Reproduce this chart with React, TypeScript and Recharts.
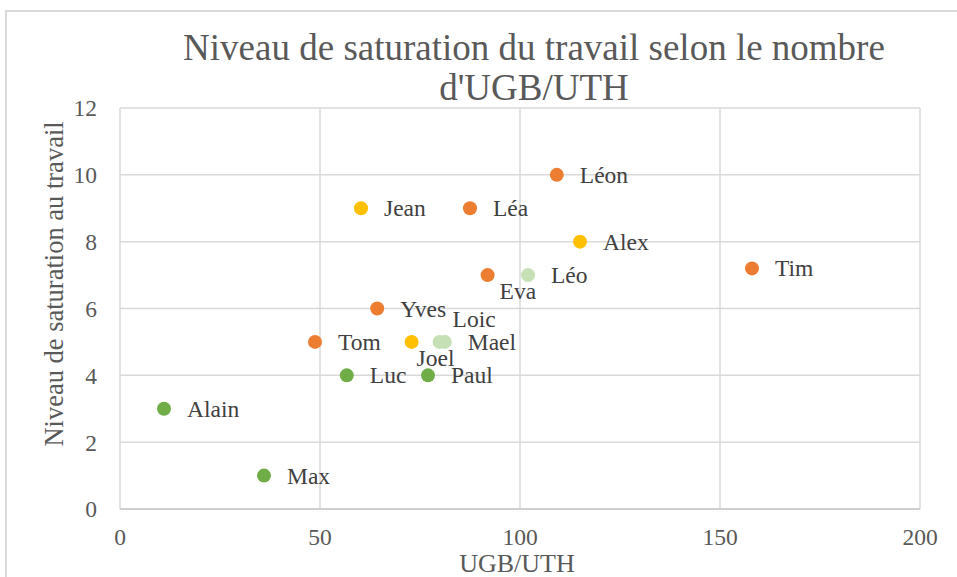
import React from 'react';
import { ScatterChart, Scatter, XAxis, YAxis, CartesianGrid } from 'recharts';

// données
const noms = ['Alain', 'Max', 'Luc', 'Paul', 'Tom', 'Yves', 'Joel', 'Loic', 'Mael', 'Jean', 'Léa', 'Eva', 'Léo', 'Léon', 'Alex', 'Tim'];
const ugbUth = [11, 36, 56.7, 77, 48.75, 64.3, 72.9, 79.9, 81.2, 60.25, 87.5, 91.9, 102, 109.2, 115, 158];
const saturation = [3, 1, 4, 4, 5, 6, 5, 5, 5, 9, 9, 7, 7, 10, 8, 7.2];
const groupes = ['vert', 'vert', 'vert', 'vert', 'orange', 'orange', 'jaune', 'clair', 'clair', 'jaune', 'orange', 'orange', 'clair', 'orange', 'jaune', 'orange'];

const xTicks = [0, 50, 100, 150, 200];
const yTicks = [0, 2, 4, 6, 8, 10, 12];

const couleurs: Record<string, string> = {
  orange: '#ED7D31',
  jaune: '#FFC000',
  vert: '#70AD47',
  clair: '#C5E0B4',
};

// étiquettes qui ne sont pas à droite du point
const placement: Record<string, [number, number, string]> = {
  Eva: [12, 24, 'start'],
  Joel: [5, 24, 'start'],
  Loic: [13, -15, 'start'],
};

const points = noms.map((nom, i) => ({ nom, x: ugbUth[i], y: saturation[i], groupe: groupes[i] }));

const FONT = '"Liberation Serif", "Times New Roman", serif';

function Point(props: any) {
  const { cx, cy, payload, fill } = props;
  const p = placement[payload.nom] || [23, 8, 'start'];
  return (
    <g>
      <circle cx={cx} cy={cy} r={7} fill={fill} />
      <text x={cx + p[0]} y={cy + p[1]} textAnchor={p[2]} style={{ fontFamily: FONT, fontSize: 23.5 }} fill="#404040">
        {payload.nom}
      </text>
    </g>
  );
}

const tickStyle = { fill: '#595959', fontSize: 23.5, style: { fontFamily: FONT, fontSize: 23.5 } };

export default function App() {
  return (
    <div style={{ position: 'absolute', left: 0, top: 0, width: 957, height: 577, overflow: 'hidden', background: '#fff', fontFamily: FONT }}>
      <div style={{ position: 'absolute', left: 5, top: 10, width: 1100, height: 700, border: '2px solid #d9d9d9' }} />
      <div style={{ position: 'absolute', left: 0, top: 0 }}>
        <ScatterChart width={957} height={577} margin={{ top: 108, right: 37, bottom: 38, left: 0 }} style={{ fontFamily: FONT }}>
          <CartesianGrid stroke="#d9d9d9" strokeWidth={1.5} />
          <XAxis
            type="number"
            dataKey="x"
            domain={[0, 200]}
            ticks={xTicks}
            height={30}
            tickLine={false}
            tickSize={0}
            tickMargin={19}
            axisLine={{ stroke: '#c8c8c8', strokeWidth: 1.5 }}
            tick={tickStyle}
          />
          <YAxis
            type="number"
            dataKey="y"
            domain={[0, 12]}
            ticks={yTicks}
            width={120}
            tickLine={false}
            axisLine={false}
            tickSize={0}
            tickMargin={23}
            tick={tickStyle}
          />
          {['orange', 'jaune', 'vert', 'clair'].map((g) => (
            <Scatter
              key={g}
              data={points.filter((p) => p.groupe === g)}
              fill={couleurs[g]}
              shape={Point}
              isAnimationActive={false}
            />
          ))}
        </ScatterChart>
      </div>
      <svg width={957} height={577} style={{ position: 'absolute', left: 0, top: 0, pointerEvents: 'none', fontFamily: FONT }}>
        <text x={534} y={60} textAnchor="middle" fontSize={37} fill="#595959">
          Niveau de saturation du travail selon le nombre
        </text>
        <text x={534} y={100} textAnchor="middle" fontSize={37} fill="#595959">
          d'UGB/UTH
        </text>
        <text x={63} y={284} textAnchor="middle" transform="rotate(-90 63 284)" fontSize={26.5} fill="#595959">
          Niveau de saturation au travail
        </text>
        <text x={517} y={572} textAnchor="middle" fontSize={26} fill="#595959">
          UGB/UTH
        </text>
      </svg>
    </div>
  );
}
